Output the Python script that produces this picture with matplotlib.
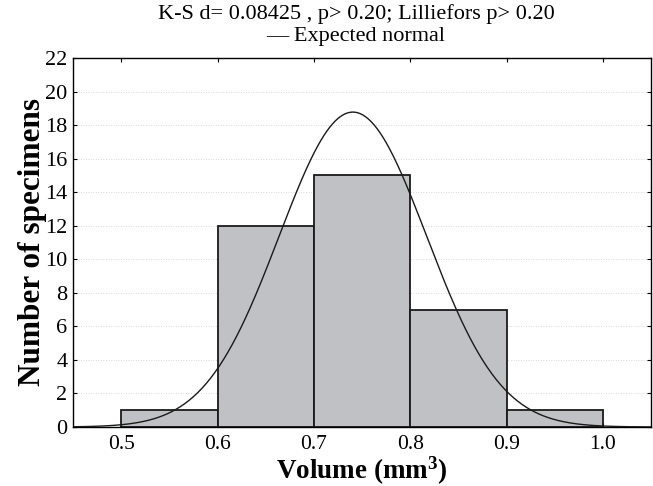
import numpy as np
import matplotlib
matplotlib.use("Agg")
import matplotlib.pyplot as plt

# histogram of specimen volumes
bin_edges = [0.5, 0.6, 0.7, 0.8, 0.9, 1.0]
counts = [1, 12, 15, 7, 1]

# fitted normal (expected counts)
mu = 0.7405
sigma = 0.0765

x_ticks = [0.5, 0.6, 0.7, 0.8, 0.9, 1.0]
y_ticks = list(range(0, 23, 2))

plt.rcParams["font.family"] = ["Liberation Serif", "DejaVu Serif"]
plt.rcParams["mathtext.fontset"] = "custom"
plt.rcParams["mathtext.bf"] = "Liberation Serif:bold"
plt.rcParams["mathtext.rm"] = "Liberation Serif"

fig = plt.figure(figsize=(6.53, 4.86), dpi=100)
ax = fig.add_axes([0.1118, 0.1214, 0.997 - 0.1118, 0.8807 - 0.1214])

widths = np.diff(bin_edges)
ax.bar(bin_edges[:-1], counts, width=widths, align="edge",
       color="#c0c1c5", edgecolor="#1a1a1a", linewidth=1.3, zorder=2)

n = sum(counts)
bw = widths[0]
xs = np.linspace(0.45, 1.05, 400)
ys = n * bw * np.exp(-0.5 * ((xs - mu) / sigma) ** 2) / (sigma * np.sqrt(2 * np.pi))
ax.plot(xs, ys, color="#1a1a1a", linewidth=1.0, zorder=3)

ax.set_xlim(0.45, 1.05)
ax.set_ylim(0, 22)
ax.set_xticks(x_ticks)
ax.set_xticklabels([f"{t:.1f}" for t in x_ticks], fontsize=15.5)
ax.set_yticks(y_ticks)
ax.set_yticklabels([str(t) for t in y_ticks], fontsize=16)
ax.tick_params(direction="in", top=True, right=True, length=3, width=0.8)
ax.tick_params(axis="x", pad=6)
ax.tick_params(axis="y", pad=4)
ax.yaxis.grid(True, linestyle=(0, (1, 2)), color="#cccccc", linewidth=0.6, zorder=0)
ax.set_axisbelow(True)
for s in ax.spines.values():
    s.set_linewidth(1.0)

ax.set_xlabel("Volume (mm$\\mathbf{^3}$)", fontsize=19.5, fontweight="bold", labelpad=0)
ax.set_ylabel("Number of specimens", fontsize=22.5, fontweight="bold", labelpad=-1.5)

fig.text(0.545, 0.971, "K-S d= 0.08425 , p> 0.20; Lilliefors p> 0.20",
         ha="center", va="center", fontsize=16)
fig.text(0.545, 0.924, "\u2014 Expected normal", ha="center", va="center", fontsize=16)

fig.savefig("out.png", dpi=100)
